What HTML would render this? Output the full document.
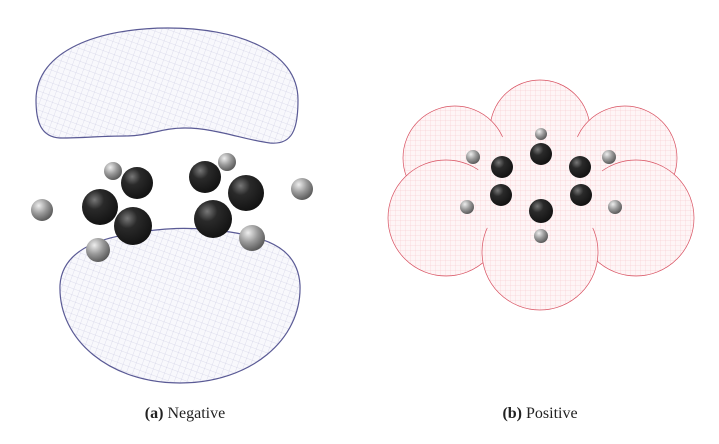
<!DOCTYPE html>
<html><head><meta charset="utf-8"><style>
html,body{margin:0;padding:0;background:#fff;}
svg{display:block;}
text{font-family:"Liberation Serif",serif;font-size:16px;fill:#222;}
</style></head><body>
<svg width="719" height="444" viewBox="0 0 719 444">
<defs>
<pattern id="meshB" width="6" height="6" patternUnits="userSpaceOnUse" patternTransform="rotate(20)">
<rect width="6" height="6" fill="#f8f8fc"/>
<path d="M0 0H6M0 0V6" stroke="#c0c0dc" stroke-width="0.45"/>
</pattern>
<pattern id="meshR" width="5" height="5" patternUnits="userSpaceOnUse">
<rect width="5" height="5" fill="#fef5f6"/>
<path d="M0 0H5M0 0V5" stroke="#f4bcc2" stroke-width="0.45"/>
</pattern>
<radialGradient id="dark" cx="0.35" cy="0.3" r="0.75">
<stop offset="0" stop-color="#777"/><stop offset="0.35" stop-color="#2a2a2a"/><stop offset="1" stop-color="#111"/>
</radialGradient>
<radialGradient id="gray" cx="0.35" cy="0.3" r="0.75">
<stop offset="0" stop-color="#eee"/><stop offset="0.5" stop-color="#999"/><stop offset="1" stop-color="#555"/>
</radialGradient>
</defs>

<g>
<path d="M36 100 C36 50 100 28 168 28 C236 28 298 50 298 100 C298 130 292 145 270 143 C245 140 215 128 185 128 C160 128 150 136 125 136 C100 136 85 138 60 138 C40 137 36 120 36 100Z" fill="url(#meshB)" stroke="#5a5a95" stroke-width="1.2"/>
<path d="M60 285 C62 255 90 240 130 234 C160 228 190 226 230 232 C270 238 298 250 300 285 C302 340 250 383 180 383 C110 383 58 340 60 285Z" fill="url(#meshB)" stroke="#5a5a95" stroke-width="1.2"/>
<circle cx="42" cy="210" r="11" fill="url(#gray)"/>
<circle cx="113" cy="171" r="9" fill="url(#gray)"/>
<circle cx="98" cy="250" r="12" fill="url(#gray)"/>
<circle cx="227" cy="162" r="9" fill="url(#gray)"/>
<circle cx="302" cy="189" r="11" fill="url(#gray)"/>
<circle cx="252" cy="238" r="13" fill="url(#gray)"/>
<circle cx="100" cy="207" r="18" fill="url(#dark)"/>
<circle cx="137" cy="183" r="16" fill="url(#dark)"/>
<circle cx="133" cy="226" r="19" fill="url(#dark)"/>
<circle cx="205" cy="177" r="16" fill="url(#dark)"/>
<circle cx="246" cy="193" r="18" fill="url(#dark)"/>
<circle cx="213" cy="219" r="19" fill="url(#dark)"/>
<text x="185" y="418" text-anchor="middle"><tspan font-weight="bold">(a)</tspan> Negative</text>
</g>

<g>
<g fill="url(#meshR)" stroke="#d85060" stroke-width="0.7">
<circle cx="540" cy="130" r="50"/>
<circle cx="455" cy="158" r="52"/>
<circle cx="625" cy="158" r="52"/>
<circle cx="446" cy="218" r="58"/>
<circle cx="636" cy="218" r="58"/>
<circle cx="540" cy="252" r="58"/>
<circle cx="540" cy="190" r="65" stroke="none"/>
</g>
<circle cx="541" cy="134" r="6" fill="url(#gray)"/>
<circle cx="473" cy="157" r="7" fill="url(#gray)"/>
<circle cx="609" cy="157" r="7" fill="url(#gray)"/>
<circle cx="467" cy="207" r="7" fill="url(#gray)"/>
<circle cx="615" cy="207" r="7" fill="url(#gray)"/>
<circle cx="541" cy="236" r="7" fill="url(#gray)"/>
<circle cx="541" cy="154" r="11" fill="url(#dark)"/>
<circle cx="502" cy="167" r="11" fill="url(#dark)"/>
<circle cx="580" cy="167" r="11" fill="url(#dark)"/>
<circle cx="501" cy="195" r="11" fill="url(#dark)"/>
<circle cx="581" cy="195" r="11" fill="url(#dark)"/>
<circle cx="541" cy="211" r="12" fill="url(#dark)"/>
<text x="540" y="418" text-anchor="middle"><tspan font-weight="bold">(b)</tspan> Positive</text>
</g>
</svg>
</body></html>
